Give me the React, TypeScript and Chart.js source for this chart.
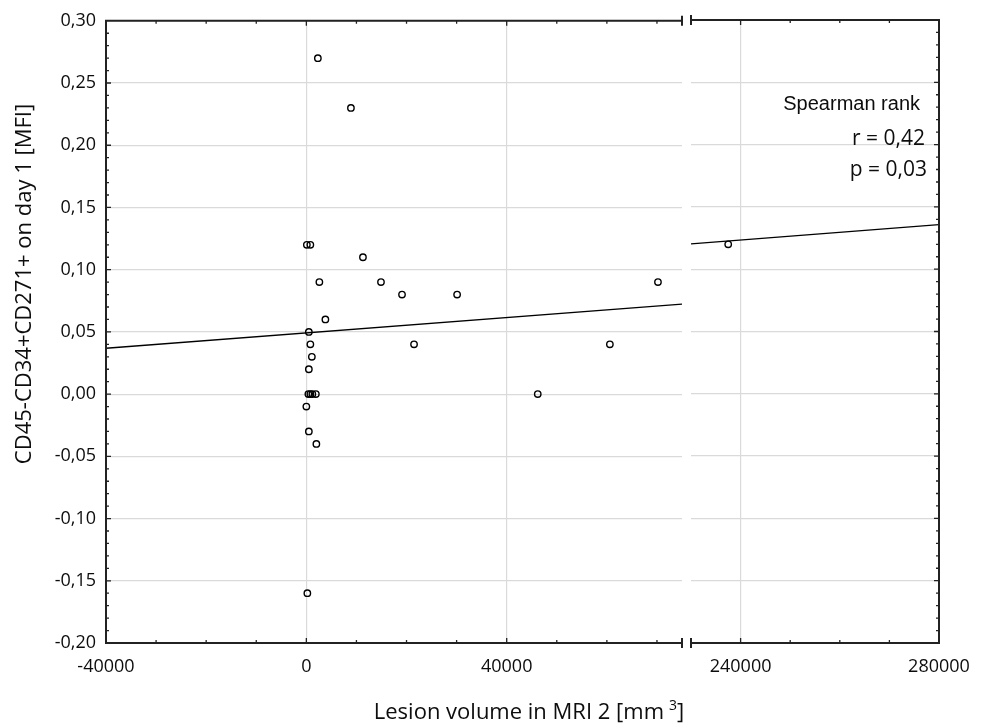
import React, { useEffect, useRef } from "react";
import { Chart, registerables } from "chart.js";

Chart.register(...registerables);

// ---------- data ----------
const lesionVolume = [
  2300, 8900, 100, 800, 11300, 2600, 14900, 19100, 30100, 70200, 3800, 500, 800,
  21500, 60600, 1100, 500, 400, 800, 1200, 1900, 46200, 0, 500, 2000, 200, 237500,
];
const cd271Day1 = [
  0.27, 0.23, 0.12, 0.12, 0.11, 0.09, 0.09, 0.08, 0.08, 0.09, 0.06, 0.05, 0.04,
  0.04, 0.04, 0.03, 0.02, 0.0, 0.0, 0.0, 0.0, 0.0, -0.01, -0.03, -0.04, -0.16, 0.12,
];
const regressionIntercept = 0.0492;
const regressionSlope = 3.09e-7;
const yTicks = [-0.2, -0.15, -0.1, -0.05, 0, 0.05, 0.1, 0.15, 0.2, 0.25, 0.3];
const xTicksLeft = [-40000, 0, 40000];
const xTicksRight = [240000, 280000];
const annotationLines = ["Spearman rank", "r = 0,42", "p = 0,03"];
const yTitle = "CD45-CD34+CD271+ on day 1 [MFI]";
const xTitleMain = "Lesion volume in MRI 2 [mm";
const xTitleSup = "3";
const xTitleEnd = "]";

// ---------- layout / style ----------
const W = 986;
const H = 723;
const Y_MIN = -0.2;
const Y_MAX = 0.3;
const Y_MINOR = 0.01;
const X_MINOR = 10000;
const LEFT_MIN = -40000;
const LEFT_MAX = 75000;
const RIGHT_MIN = 230000;
const RIGHT_MAX = 280000;
const TEXT = "#0d0d0d";
const AXIS = "#222222";
const GRID = "#dadada";
const FONT = '"Open Sans", "Noto Sans", sans-serif';

const fmtY = (v: any) => Number(v).toFixed(2).replace(".", ",");

const regLine = (a: number, b: number) => [
  { x: a, y: regressionIntercept + regressionSlope * a },
  { x: b, y: regressionIntercept + regressionSlope * b },
];

const pointsIn = (lo: number, hi: number) =>
  lesionVolume
    .map((x, i) => ({ x, y: cd271Day1[i] }))
    .filter((p) => p.x >= lo && p.x <= hi);

const framePlugin = {
  id: "frame",
  afterDraw(chart: any, _args: any, opts: any) {
    const { ctx, chartArea: a } = chart;
    const xs = chart.scales.x;
    const ys = chart.scales.y;
    const side = opts.side;
    ctx.save();
    ctx.strokeStyle = AXIS;
    ctx.lineWidth = 2;
    ctx.beginPath();
    ctx.moveTo(a.left, a.top);
    ctx.lineTo(a.right, a.top);
    ctx.moveTo(a.left, a.bottom);
    ctx.lineTo(a.right, a.bottom);
    const ax = side === "left" ? a.left : a.right;
    ctx.moveTo(ax, a.top - 1);
    ctx.lineTo(ax, a.bottom + 1);
    const bx = side === "left" ? a.right : a.left;
    [a.top, a.bottom].forEach((yy: number) => {
      ctx.moveTo(bx, yy - 5);
      ctx.lineTo(bx, yy + 5);
    });
    ctx.stroke();

    ctx.lineWidth = 1.3;
    ctx.beginPath();
    const dir = side === "left" ? 1 : -1;
    const n = Math.round((Y_MAX - Y_MIN) / Y_MINOR);
    for (let i = 1; i < n; i++) {
      const py = ys.getPixelForValue(Y_MIN + i * Y_MINOR);
      const len = i % 5 === 0 ? 5 : 3;
      ctx.moveTo(ax, py);
      ctx.lineTo(ax + dir * len, py);
    }
    const start = Math.ceil(xs.min / X_MINOR);
    const end = Math.floor(xs.max / X_MINOR);
    for (let k = start; k <= end; k++) {
      const v = k * X_MINOR;
      if (v === xs.min || v === xs.max) continue;
      const px = xs.getPixelForValue(v);
      const len = opts.majors.includes(v) ? 5 : 3;
      ctx.moveTo(px, a.top);
      ctx.lineTo(px, a.top + len);
      ctx.moveTo(px, a.bottom);
      ctx.lineTo(px, a.bottom - len);
    }
    ctx.stroke();
    ctx.restore();
  },
};

const titlesPlugin = {
  id: "titles",
  afterDraw(chart: any) {
    const { ctx } = chart;
    ctx.save();
    ctx.fillStyle = TEXT;
    ctx.font = `22px ${FONT}`;
    ctx.textAlign = "center";
    ctx.textBaseline = "middle";
    ctx.translate(25, 284);
    ctx.rotate(-Math.PI / 2);
    ctx.fillText(yTitle, 0, 0);
    ctx.restore();

    ctx.save();
    ctx.fillStyle = TEXT;
    ctx.textBaseline = "alphabetic";
    ctx.textAlign = "left";
    const mainFont = `22px ${FONT}`;
    const supFont = `14px ${FONT}`;
    ctx.font = mainFont;
    const w1 = ctx.measureText(xTitleMain).width;
    const w3 = ctx.measureText(xTitleEnd).width;
    ctx.font = supFont;
    const w2 = ctx.measureText(xTitleSup).width;
    const gap = 5;
    const total = w1 + gap + w2 + w3;
    const cx = 529;
    const base = 719;
    let x = cx - total / 2;
    ctx.font = mainFont;
    ctx.fillText(xTitleMain, x, base);
    x += w1 + gap;
    ctx.font = supFont;
    ctx.fillText(xTitleSup, x, base - 9);
    x += w2;
    ctx.font = mainFont;
    ctx.fillText(xTitleEnd, x, base);
    ctx.restore();
  },
};

const annotationPlugin = {
  id: "annot",
  afterDraw(chart: any) {
    const { ctx } = chart;
    ctx.save();
    ctx.fillStyle = TEXT;
    ctx.textAlign = "right";
    ctx.textBaseline = "alphabetic";
    ctx.font = `20px "Liberation Sans", Arial, sans-serif`;
    ctx.fillText(annotationLines[0], 920, 110);
    ctx.font = `21px ${FONT}`;
    ctx.fillText(annotationLines[1], 925, 145);
    ctx.fillText(annotationLines[2], 927, 176);
    ctx.restore();
  },
};

function xScale(min: number, max: number, ticks: number[]) {
  return {
    type: "linear",
    min,
    max,
    afterBuildTicks: (s: any) => {
      s.ticks = ticks.map((value) => ({ value }));
    },
    afterFit: (s: any) => {
      s.height = 80;
    },
    ticks: {
      autoSkip: false,
      maxRotation: 0,
      minRotation: 0,
      padding: 13,
      color: TEXT,
      font: { family: FONT, size: 18 },
      callback: (v: any) => String(v),
    },
    grid: { color: GRID, lineWidth: 1.2, drawTicks: false },
    border: { display: false },
  };
}

function yScale(showLabels: boolean) {
  return {
    type: "linear",
    min: Y_MIN,
    max: Y_MAX,
    afterBuildTicks: (s: any) => {
      s.ticks = yTicks.map((value) => ({ value }));
    },
    afterFit: (s: any) => {
      s.width = showLabels ? 106 : 0;
    },
    ticks: {
      display: showLabels,
      autoSkip: false,
      padding: 10,
      color: TEXT,
      font: { family: FONT, size: 18 },
      callback: fmtY,
    },
    grid: { color: GRID, lineWidth: 1.2, drawTicks: false },
    border: { display: false },
  };
}

function datasets(lo: number, hi: number) {
  return [
    {
      type: "scatter",
      data: regLine(lo, hi),
      showLine: true,
      borderColor: "#000000",
      borderWidth: 1.3,
      pointRadius: 0,
      fill: false,
    },
    {
      type: "scatter",
      data: pointsIn(lo, hi),
      pointRadius: 3.2,
      pointBorderWidth: 1.4,
      pointBorderColor: "#000000",
      pointBackgroundColor: "rgba(0,0,0,0)",
      borderColor: "#000000",
      backgroundColor: "rgba(0,0,0,0)",
      showLine: false,
    },
  ];
}

function baseOptions(padding: any, xs: any, ys: any, frame: any) {
  return {
    responsive: false,
    animation: false,
    devicePixelRatio: 1,
    layout: { padding },
    scales: { x: xs, y: ys },
    plugins: {
      legend: { display: false },
      tooltip: { enabled: false },
      frame,
    },
    events: [],
  };
}

export default function App() {
  const leftRef = useRef<HTMLCanvasElement>(null);
  const rightRef = useRef<HTMLCanvasElement>(null);

  useEffect(() => {
    const left = new Chart(leftRef.current as HTMLCanvasElement, {
      type: "scatter",
      data: { datasets: datasets(LEFT_MIN, LEFT_MAX) as any },
      options: baseOptions(
        { left: 0, top: 20, right: W - 682, bottom: 0 },
        xScale(LEFT_MIN, LEFT_MAX, xTicksLeft),
        yScale(true),
        { side: "left", majors: xTicksLeft }
      ) as any,
      plugins: [framePlugin, titlesPlugin] as any,
    });
    const right = new Chart(rightRef.current as HTMLCanvasElement, {
      type: "scatter",
      data: { datasets: datasets(RIGHT_MIN, RIGHT_MAX) as any },
      options: baseOptions(
        { left: 691, top: 20, right: W - 939, bottom: 0 },
        xScale(RIGHT_MIN, RIGHT_MAX, xTicksRight),
        yScale(false),
        { side: "right", majors: xTicksRight }
      ) as any,
      plugins: [framePlugin, annotationPlugin] as any,
    });
    return () => {
      left.destroy();
      right.destroy();
    };
  }, []);

  const canvasStyle: React.CSSProperties = {
    position: "absolute",
    left: 0,
    top: 0,
    width: W,
    height: H,
  };

  return (
    <div style={{ position: "absolute", left: 0, top: 0, width: W, height: H, background: "#ffffff" }}>
      <canvas ref={leftRef} width={W} height={H} style={canvasStyle} />
      <canvas ref={rightRef} width={W} height={H} style={canvasStyle} />
    </div>
  );
}
